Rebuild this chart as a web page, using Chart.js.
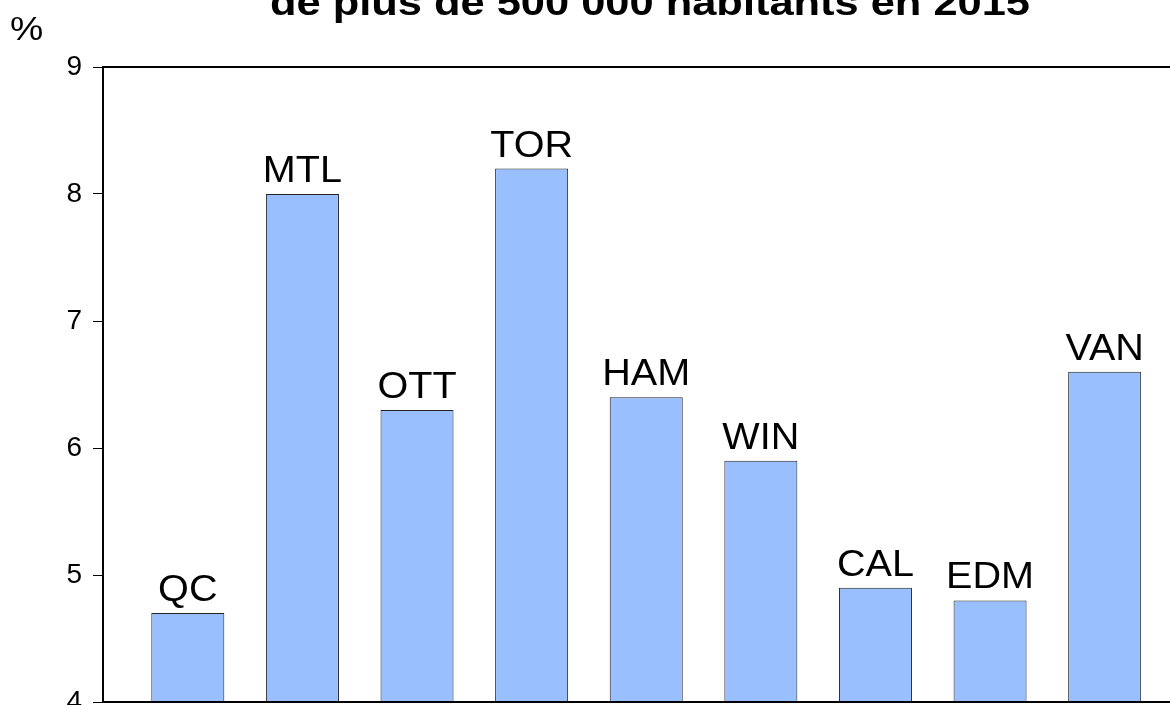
<!DOCTYPE html>
<html>
<head>
<meta charset="utf-8">
<script src="https://cdn.jsdelivr.net/npm/chart.js@4/dist/chart.umd.min.js"></script>
<style>
  html, body { margin: 0; padding: 0; background: #fff; overflow: hidden; }
  canvas { display: block; }
</style>
</head>
<body>
<canvas id="chart" width="1170" height="705"></canvas>
<script>
// ─── DATA ─────────────────────────────────────────────────────────────────────

const cities  = ['QC', 'MTL', 'OTT', 'TOR', 'HAM', 'WIN', 'CAL', 'EDM', 'VAN'];
const rates   = [4.7, 8.0, 6.3, 8.2, 6.4, 5.9, 4.9, 4.8, 6.6];
const yTicks  = [4, 5, 6, 7, 8, 9];
const titleText = 'de plus de 500 000 habitants en 2015';
const unitText  = '%';

const FONT = '"Liberation Sans", Arial, sans-serif';

// draw text stretched a bit horizontally, like the original export
function wideText(ctx, text, x, y, sx) {
  ctx.save();
  ctx.translate(x, y);
  ctx.scale(sx, 1);
  ctx.fillText(text, 0, 0);
  ctx.restore();
}

// ─── PLUGINS ──────────────────────────────────────────────────────────────────

const decor = {
  id: 'decor',
  afterDatasetsDraw(chart) {
    const { ctx, chartArea: a } = chart;
    ctx.save();

    // frame (left, top, bottom) - right side runs off the picture
    ctx.strokeStyle = '#000';
    ctx.lineWidth = 2;
    ctx.beginPath();
    ctx.moveTo(a.right + 2, a.top);
    ctx.lineTo(a.left, a.top);
    ctx.lineTo(a.left, a.bottom);
    ctx.lineTo(a.right + 2, a.bottom);
    ctx.stroke();

    // city labels above bars
    ctx.fillStyle = '#000';
    ctx.font = '36px ' + FONT;
    ctx.textAlign = 'center';
    ctx.textBaseline = 'alphabetic';
    const meta = chart.getDatasetMeta(0);
    meta.data.forEach((bar, i) => {
      wideText(ctx, cities[i], bar.x, bar.y - 12, 1.1);
    });

    // title (first line is off the picture) and unit
    ctx.font = 'bold 36px ' + FONT;
    const tw = ctx.measureText(titleText).width;
    wideText(ctx, titleText, 650, 15, 760 / tw);

    ctx.font = '34px ' + FONT;
    ctx.textAlign = 'left';
    wideText(ctx, unitText, 10, 40, 1.1);
    ctx.restore();
  }
};

// ─── CHART ────────────────────────────────────────────────────────────────────

new Chart(document.getElementById('chart'), {
  type: 'bar',
  data: {
    datasets: [{
      data: rates.map((v, i) => ({ x: i, y: v })),
      backgroundColor: '#99BFFF',
      borderColor: '#222',
      borderWidth: 1,
      barPercentage: 0.637,
      categoryPercentage: 1,
    }]
  },
  options: {
    responsive: false,
    animation: false,
    layout: { padding: { top: 67, bottom: 3, left: 0, right: 0 } },
    plugins: {
      legend: { display: false },
      tooltip: { enabled: false },
      title: { display: false },
    },
    scales: {
      x: {
        type: 'linear',
        display: false,
        offset: false,
        min: -0.74,
        max: 8.57,
        afterBuildTicks: s => { s.ticks = cities.map((c, i) => ({ value: i })); },
      },
      y: {
        min: 4,
        max: 9,
        afterFit: s => {
          s.width = 103;
          s.paddingTop = 0;
          s.paddingBottom = 0;
        },
        afterBuildTicks: s => { s.ticks = yTicks.map(v => ({ value: v })); },
        grid: {
          drawOnChartArea: false,
          drawTicks: true,
          tickLength: 10,
          color: '#000',
          lineWidth: 1,
        },
        border: { display: false },
        ticks: {
          color: '#000',
          padding: 11,
          font: { size: 28, family: FONT },
        },
      },
    },
  },
  plugins: [decor],
});
</script>
</body>
</html>
